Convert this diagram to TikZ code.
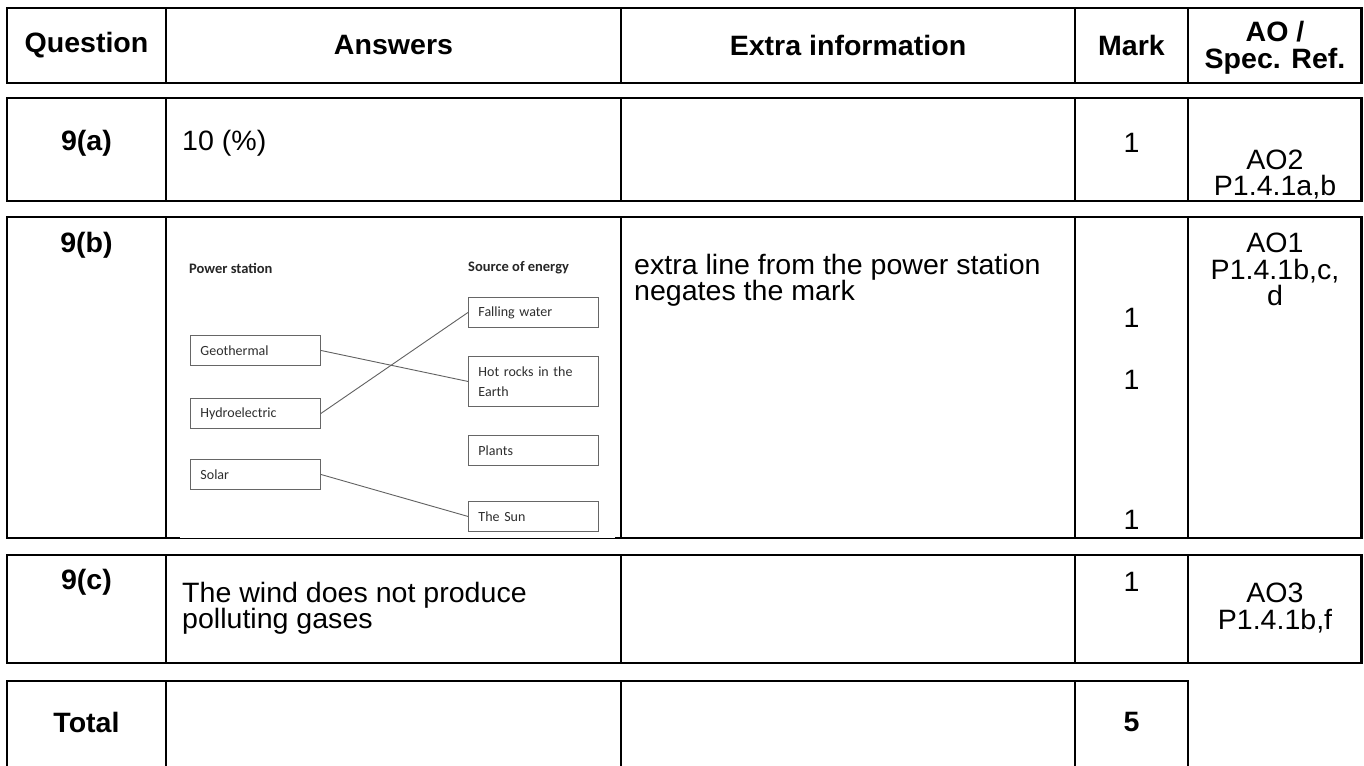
\documentclass[tikz,border=0pt]{standalone}
\usepackage{fontspec}
\setmainfont{Liberation Sans}
\newfontfamily\diagfont{Carlito}
\newcommand\hs[1]{\scalebox{1.02}[1]{#1}}
\tikzset{
  grid/.style={line width=2.6pt},
  cell/.style={inner sep=0pt, font=\fontsize{28}{26.5}\selectfont},
  hcell/.style={inner sep=0pt, font=\fontsize{28}{26.5}\selectfont\bfseries},
  dlabel/.style={inner sep=0pt, anchor=west, text=black!85, font=\diagfont\bfseries\fontsize{14.5}{16}\selectfont},
  dbox/.style={draw=black!60, line width=0.9pt, anchor=north west, minimum height=30pt, text width=110pt, inner xsep=10pt, inner ysep=0pt, align=left, text=black!82, font=\diagfont\fontsize{14}{20}\selectfont},
  dline/.style={draw=black!62, line width=0.9pt},
}
\begin{document}
\begin{tikzpicture}[x=1pt,y=-1pt]
\useasboundingbox (0,0) rectangle (1364,765);
\fill[white] (0,0) rectangle (1364,765);

% ---- header row
\draw[grid] (7,8) rectangle (1361.5,83);
\foreach \x in {166,621,1075,1188} \draw[grid] (\x,8) -- (\x,83);
\node[hcell] (hq) at (86.5,45) {\hs{Question}};
\node[hcell] (ha) at (393.5,45) {\hs{Answers}};
\node[hcell] (he) at (848,45) {\hs{Extra information}};
\node[hcell] (hm) at (1131.5,45) {\hs{Mark}};
\node[hcell, align=center] (hao) at (1275,48) {\hs{AO /}\\\hs{Spec. Ref.}};

% ---- 9(a)
\draw[grid] (7,98) rectangle (1361.5,201);
\foreach \x in {166,621,1075,1188} \draw[grid] (\x,98) -- (\x,201);
\node[hcell] (qa) at (86.5,143) {\hs{9(a)}};
\node[cell, anchor=west] (aa) at (182,143) {\hs{10 (\%)}};
\node[cell] (ma) at (1131.5,143) {\hs{1}};
\node[cell, align=center] (oa) at (1275,174.5) {\hs{AO2}\\\hs{P1.4.1a,b}};

% ---- 9(b)
\draw[grid] (7,217) rectangle (1361.5,538);
\foreach \x in {166,621,1075,1188} \draw[grid] (\x,217) -- (\x,538);
\fill[white] (180,536.4) rectangle (615,539.7);
\draw[line width=0.9pt] (180,538.6) -- (615,538.6);
\node[hcell] (qb) at (86.5,245) {\hs{9(b)}};
\node[cell, anchor=west, align=left] (eb) at (634,280.5) {\hs{extra line from the power station}\\\hs{negates the mark}};
\node[cell] (mb1) at (1131.5,318) {\hs{1}};
\node[cell] (mb2) at (1131.5,380) {\hs{1}};
\node[cell] (mb3) at (1131.5,520) {\hs{1}};
\node[cell, align=center] (ob) at (1275,269.5) {\hs{AO1}\\\hs{P1.4.1b,c,}\\\hs{d}};

% embedded matching diagram
\node[dlabel] (ps) at (189,268) {Power station};
\node[dlabel] (se) at (468,268) {Source of energy};
\node[dbox] (geo) at (190,335) {Geothermal};
\node[dbox] (hyd) at (190,398) {Hydroelectric};
\node[dbox] (sol) at (190,459) {Solar};
\node[dbox] (fal) at (468,297) {Falling water};
\node[dbox, minimum height=50pt] (hot) at (468,356) {Hot rocks in the\\Earth};
\node[dbox] (pla) at (468,435) {Plants};
\node[dbox] (sun) at (468,501) {The Sun};
\draw[dline] (geo.east) -- (hot.west);
\draw[dline] (hyd.east) -- (fal.west);
\draw[dline] (sol.east) -- (sun.west);

% ---- 9(c)
\draw[grid] (7,555) rectangle (1361.5,663);
\foreach \x in {166,621,1075,1188} \draw[grid] (\x,555) -- (\x,663);
\node[hcell] (qc) at (86.5,582) {\hs{9(c)}};
\node[cell, anchor=west, align=left] (ac) at (182,608.5) {\hs{The wind does not produce}\\\hs{polluting gases}};
\node[cell] (mc) at (1131.5,582) {\hs{1}};
\node[cell, align=center] (oc) at (1275,608) {\hs{AO3}\\\hs{P1.4.1b,f}};

% ---- Total
\draw[grid] (7,790) -- (7,681) -- (1188,681) -- (1188,790);
\foreach \x in {166,621,1075} \draw[grid] (\x,681) -- (\x,790);
\node[hcell] (qt) at (86.5,722) {\hs{Total}};
\node[hcell] (mt) at (1131.5,722) {\hs{5}};
\end{tikzpicture}
\end{document}
